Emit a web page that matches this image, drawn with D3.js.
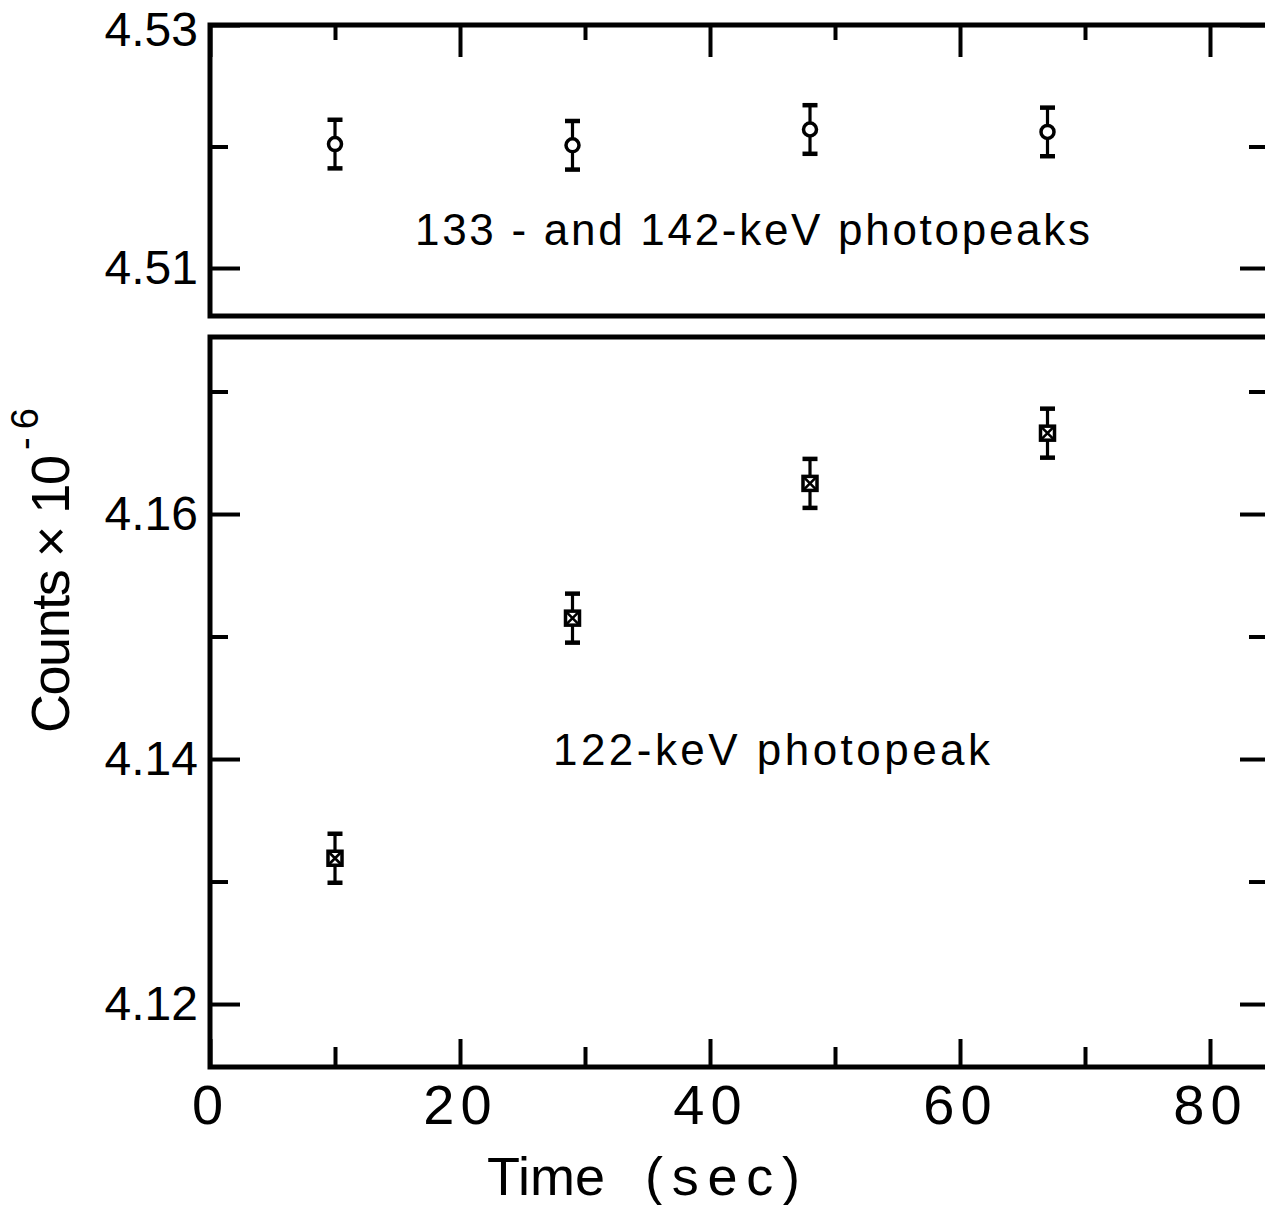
<!DOCTYPE html>
<html>
<head>
<meta charset="utf-8">
<script src="https://cdn.jsdelivr.net/npm/d3@7"></script>
<style>
  html, body { margin: 0; padding: 0; background: #fff; }
  svg { display: block; }
  text { font-family: "Liberation Sans", Arial, sans-serif; fill: #000; }
</style>
</head>
<body>
<svg id="chart" width="1265" height="1205"></svg>
<script>
// Measurement times (s)
const times = [10, 29, 48, 67];
// 133- and 142-keV photopeak counts (x 10^6) and their uncertainties
const counts133 = [4.5202, 4.5201, 4.5214, 4.5212];
const err133 = [0.002, 0.002, 0.002, 0.002];
// 122-keV photopeak counts (x 10^6) and their uncertainties
const counts122 = [4.1319, 4.1515, 4.1625, 4.1666];
const err122 = [0.002, 0.002, 0.002, 0.002];

// Axis ticks
const xMajor = [0, 20, 40, 60, 80];
const xMinor = [10, 30, 50, 70];
const xTickLabels = ["0", "20", "40", "60", "80"];
const topMajor = [4.53, 4.51];
const topMinor = [4.52];
const topTickLabels = ["4.53", "4.51"];
const botMajor = [4.16, 4.14, 4.12];
const botMinor = [4.17, 4.15, 4.13];
const botTickLabels = ["4.16", "4.14", "4.12"];

const svg = d3.select("#chart");
const left = 210, right = 1270;
const topPanel = { y0: 25, y1: 316 };
const botPanel = { y0: 337, y1: 1067 };

const x = d3.scaleLinear().domain([0, 84.8]).range([left, right]);
const yTop = d3.scaleLinear().domain([4.50605, 4.53]).range([topPanel.y1, topPanel.y0]);
const yBot = d3.scaleLinear().domain([4.11486, 4.17445]).range([botPanel.y1, botPanel.y0]);

const MAJ = 30, MIN = 18;

function styleAxis(g) {
  g.select(".domain").remove();
  g.selectAll(".tick line").attr("stroke", "#000").attr("stroke-width", 4);
}

function yAxes(scale, major, minor, labels) {
  // left side, labelled
  svg.append("g").attr("transform", `translate(${left},0)`)
    .call(d3.axisLeft(scale).tickValues(major).tickSize(-MAJ).tickPadding(12)
      .tickFormat((d, i) => labels[i]))
    .call(styleAxis)
    .call(g => g.selectAll("text").attr("font-size", 48).attr("font-family", "Liberation Sans, Arial, sans-serif"));
  svg.append("g").attr("transform", `translate(${left},0)`)
    .call(d3.axisLeft(scale).tickValues(minor).tickSize(-MIN).tickFormat(""))
    .call(styleAxis);
  // right side, unlabelled
  svg.append("g").attr("transform", `translate(${right},0)`)
    .call(d3.axisRight(scale).tickValues(major).tickSize(-MAJ).tickFormat(""))
    .call(styleAxis);
  svg.append("g").attr("transform", `translate(${right},0)`)
    .call(d3.axisRight(scale).tickValues(minor).tickSize(-MIN - 3).tickFormat(""))
    .call(styleAxis);
}

yAxes(yTop, topMajor, topMinor, topTickLabels);
yAxes(yBot, botMajor, botMinor, botTickLabels);

// keep the topmost value label inside the page
svg.selectAll("text").filter(function () { return this.textContent === "4.53"; })
  .attr("dy", "0.32em").attr("y", 5);

// top edge of the upper panel: time ticks
svg.append("g").attr("transform", `translate(0,${topPanel.y0})`)
  .call(d3.axisTop(x).tickValues(xMajor).tickSize(-32).tickFormat(""))
  .call(styleAxis);
svg.append("g").attr("transform", `translate(0,${topPanel.y0})`)
  .call(d3.axisTop(x).tickValues(xMinor).tickSize(-15).tickFormat(""))
  .call(styleAxis);

// bottom time axis
svg.append("g").attr("transform", `translate(0,${botPanel.y1})`)
  .call(d3.axisBottom(x).tickValues(xMajor).tickSize(-28).tickPadding(17)
    .tickFormat((d, i) => xTickLabels[i]))
  .call(styleAxis)
  .call(g => g.selectAll("text").attr("font-size", 56).attr("letter-spacing", 6)
    .attr("font-family", "Liberation Sans, Arial, sans-serif"));
svg.append("g").attr("transform", `translate(0,${botPanel.y1})`)
  .call(d3.axisBottom(x).tickValues(xMinor).tickSize(-20).tickFormat(""))
  .call(styleAxis);

// panel frames
[topPanel, botPanel].forEach(p => {
  svg.append("rect")
    .attr("x", left).attr("y", p.y0)
    .attr("width", right - left).attr("height", p.y1 - p.y0)
    .attr("fill", "none").attr("stroke", "#000").attr("stroke-width", 5);
});

// error bars
function errorBars(ys, vals, errs) {
  const g = svg.append("g").attr("stroke", "#000");
  times.forEach((t, i) => {
    const cx = x(t), yHi = ys(vals[i] + errs[i]), yLo = ys(vals[i] - errs[i]);
    g.append("line").attr("x1", cx).attr("x2", cx).attr("y1", yHi).attr("y2", yLo).attr("stroke-width", 3.2);
    g.append("line").attr("x1", cx - 7.5).attr("x2", cx + 7.5).attr("y1", yHi).attr("y2", yHi).attr("stroke-width", 4.5);
    g.append("line").attr("x1", cx - 7.5).attr("x2", cx + 7.5).attr("y1", yLo).attr("y2", yLo).attr("stroke-width", 4.5);
  });
}
errorBars(yTop, counts133, err133);
errorBars(yBot, counts122, err122);

// circles: 133/142-keV
svg.append("g").selectAll("circle").data(times).join("circle")
  .attr("cx", d => x(d)).attr("cy", (d, i) => yTop(counts133[i]))
  .attr("r", 6.5).attr("fill", "#fff").attr("stroke", "#000").attr("stroke-width", 3.5);

// crossed squares: 122-keV
const sq = svg.append("g").attr("stroke", "#000");
times.forEach((t, i) => {
  const cx = x(t), cy = yBot(counts122[i]), h = 7;
  sq.append("rect").attr("x", cx - h).attr("y", cy - h).attr("width", 2 * h).attr("height", 2 * h)
    .attr("fill", "#fff").attr("stroke-width", 3.5);
  sq.append("path").attr("d", `M${cx - h},${cy - h}L${cx + h},${cy + h}M${cx + h},${cy - h}L${cx - h},${cy + h}`)
    .attr("stroke-width", 2.6);
});

// panel captions
svg.append("text").attr("x", 415).attr("y", 245)
  .attr("font-size", 44).attr("textLength", 675).attr("lengthAdjust", "spacing")
  .text("133 - and 142-keV photopeaks");
svg.append("text").attr("x", 553).attr("y", 765)
  .attr("font-size", 44).attr("textLength", 437).attr("lengthAdjust", "spacing")
  .text("122-keV photopeak");

// axis titles
svg.append("text").attr("x", 487).attr("y", 1195)
  .attr("font-size", 54).attr("textLength", 118).attr("lengthAdjust", "spacing").text("Time");
svg.append("text").attr("x", 645).attr("y", 1195)
  .attr("font-size", 54).attr("textLength", 155).attr("lengthAdjust", "spacing").text("(sec)");

svg.append("text").attr("transform", "translate(69,733) rotate(-90)")
  .attr("font-size", 54).attr("textLength", 278).attr("lengthAdjust", "spacing")
  .text("Counts × 10");
svg.append("text").attr("transform", "translate(38,450) rotate(-90)")
  .attr("font-size", 38).attr("textLength", 42).attr("lengthAdjust", "spacing")
  .text("-6");
</script>
</body>
</html>
